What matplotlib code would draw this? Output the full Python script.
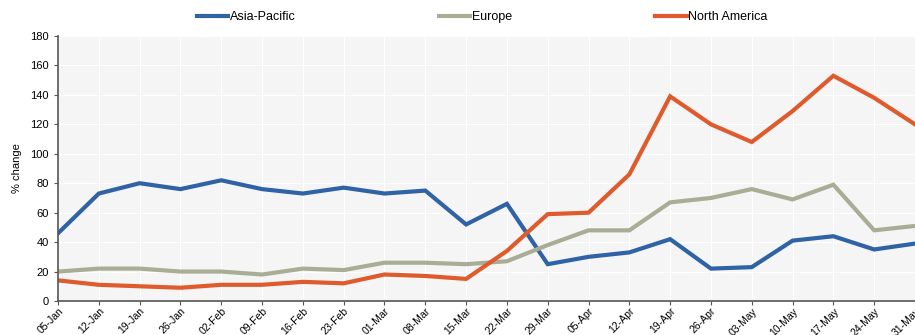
import matplotlib.pyplot as plt

plt.rcParams['font.family'] = ['Liberation Sans', 'DejaVu Sans']

# Weekly dates
weeks = ['05-Jan', '12-Jan', '19-Jan', '26-Jan', '02-Feb', '09-Feb', '16-Feb',
         '23-Feb', '01-Mar', '08-Mar', '15-Mar', '22-Mar', '29-Mar', '05-Apr',
         '12-Apr', '19-Apr', '26-Apr', '03-May', '10-May', '17-May', '24-May',
         '31-May']

# % change by region
asia_pacific = [46, 73, 80, 76, 82, 76, 73, 77, 73, 75, 52, 66, 25, 30, 33,
                42, 22, 23, 41, 44, 35, 39]
europe = [20, 22, 22, 20, 20, 18, 22, 21, 26, 26, 25, 27, 38, 48, 48, 67,
          70, 76, 69, 79, 48, 51]
north_america = [14, 11, 10, 9, 11, 11, 13, 12, 18, 17, 15, 34, 59, 60, 86,
                 139, 120, 108, 129, 153, 138, 120]

fig = plt.figure(figsize=(9.15, 3.35), dpi=100)
ax = fig.add_axes([0.0634, 0.1015, 0.9366, 0.791])

x = range(len(weeks))
ax.plot(x, asia_pacific, color='#2f63a6', linewidth=3, label='Asia-Pacific',
        solid_joinstyle='miter')
ax.plot(x, europe, color='#aaad96', linewidth=3, label='Europe',
        solid_joinstyle='miter')
ax.plot(x, north_america, color='#df5a2c', linewidth=3, label='North America',
        solid_joinstyle='miter')

ax.set_facecolor('#f5f5f5')
ax.set_xlim(0, len(weeks) - 1)
ax.set_ylim(0, 180)
ax.set_yticks(range(0, 181, 20))
ax.set_xticks(list(x))
ax.set_xticklabels(weeks, rotation=45, ha='right', rotation_mode='anchor',
                   fontsize=7.5)
ax.tick_params(axis='y', labelsize=8, length=3, color='#555555')
ax.tick_params(axis='x', length=3, color='#555555', pad=0.5)
ax.grid(True, color='white', linewidth=0.8)
ax.set_axisbelow(True)
for side in ['top', 'right']:
    ax.spines[side].set_visible(False)
for side in ['left', 'bottom']:
    ax.spines[side].set_color('#555555')
    ax.spines[side].set_linewidth(1.2)
ax.set_ylabel('% change', fontsize=8, labelpad=6)

fig.legend(loc='upper center', bbox_to_anchor=(0.527, 1.0), ncol=3,
           frameon=False, fontsize=9, handlelength=2.5, handletextpad=0.1,
           columnspacing=11.5)

fig.savefig('out.png', dpi=100)
